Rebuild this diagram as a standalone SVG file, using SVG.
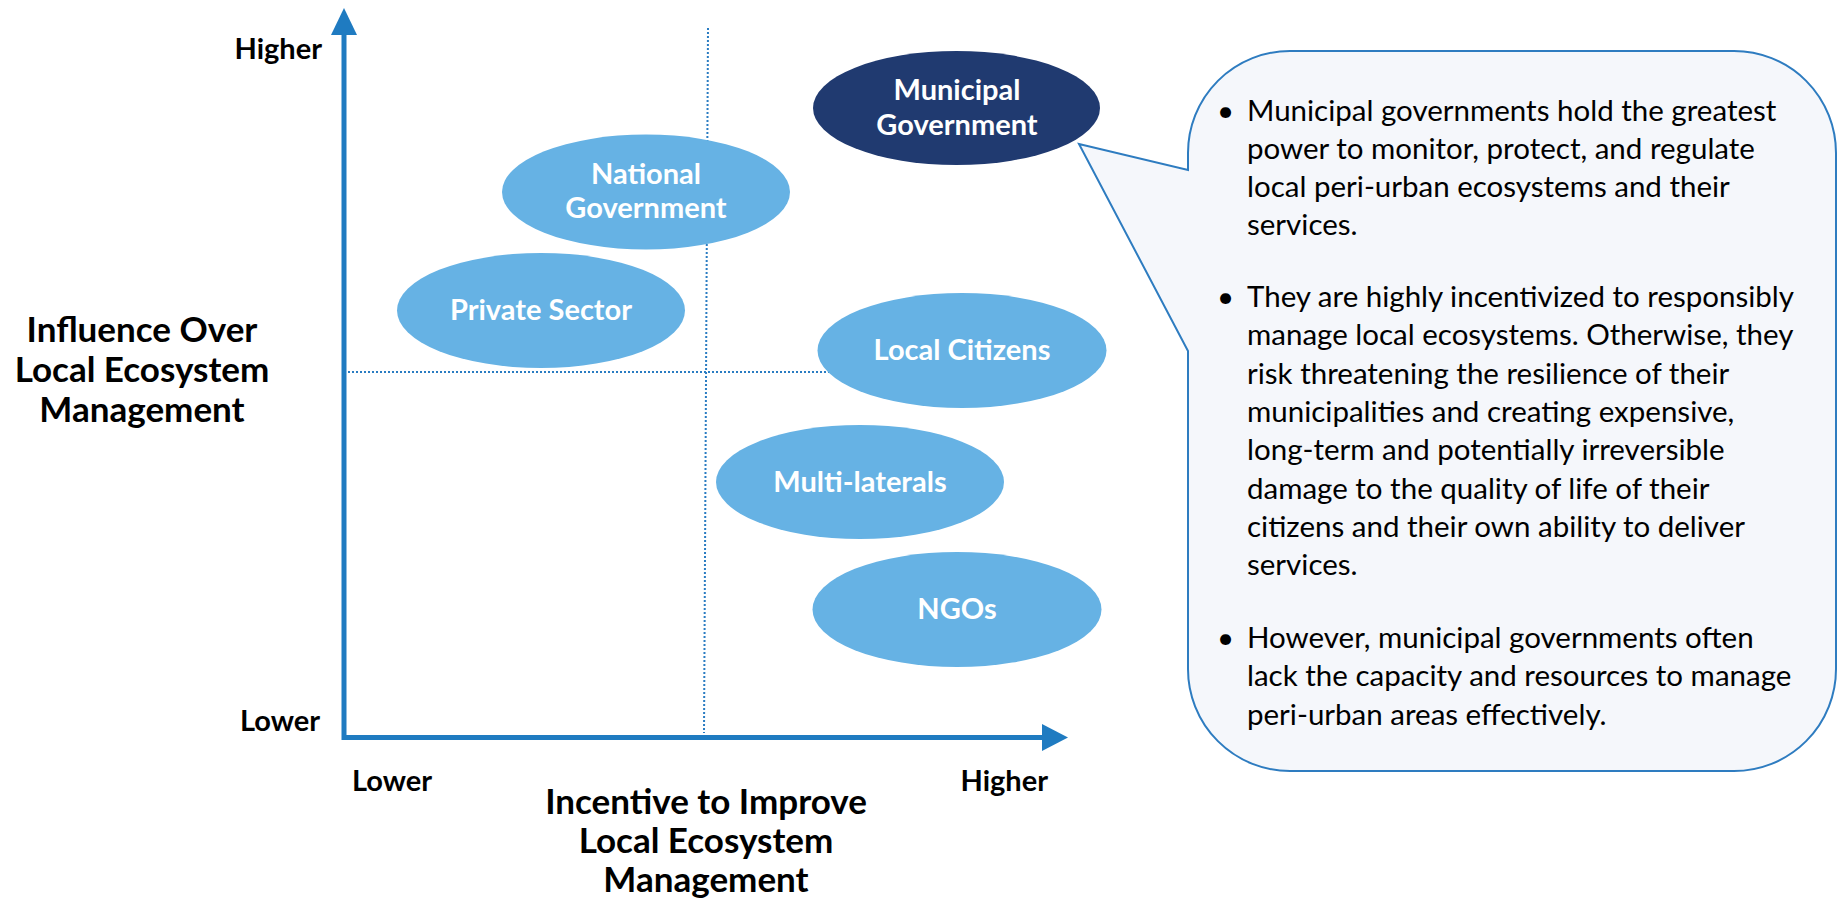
<svg xmlns="http://www.w3.org/2000/svg" width="1841" height="900" viewBox="0 0 1841 900">
<style>
  .axis { stroke: #1f7bc1; stroke-width: 5; fill: none; }
  .arrowhead { fill: #1f7bc1; }
  .dotted { stroke: #2a7cc2; stroke-width: 2; stroke-dasharray: 2 2; fill: none; }
  .ell { fill: #66b2e4; }
  .ell-dark { fill: #203a70; }
  .etext { font-family: Lato, "Open Sans", sans-serif; font-weight: 700; font-size: 29px; fill: #ffffff; text-anchor: middle; }
  .lbl { font-family: Lato, "Open Sans", sans-serif; font-weight: 700; font-size: 29px; fill: #000000; }
  .title { font-family: Lato, "Open Sans", sans-serif; font-weight: 700; font-size: 35px; fill: #000000; text-anchor: middle; }
  .callout { fill: #f5f7fb; stroke: #2e7cc0; stroke-width: 2; }
  .body { font-family: Lato, "Open Sans", sans-serif; font-size: 29.5px; fill: #000000; }
</style>
<rect width="1841" height="900" fill="#ffffff"/>

<g id="connectors">
  <line class="dotted" x1="708" y1="28" x2="704" y2="733"/>
  <line class="dotted" x1="348" y1="372" x2="830" y2="372"/>
  <line class="axis" x1="344" y1="740" x2="344" y2="33"/>
  <polygon class="arrowhead" points="331,35 357,35 344,8"/>
  <line class="axis" x1="342" y1="737.5" x2="1044" y2="737.5"/>
  <polygon class="arrowhead" points="1042,724 1042,751 1068,737.5"/>
</g>

<g id="axis-labels">
  <text class="lbl" x="322" y="59" text-anchor="end">Higher</text>
  <text class="lbl" x="320" y="731" text-anchor="end">Lower</text>
  <text class="lbl" x="352" y="791">Lower</text>
  <text class="lbl" x="1048" y="791" text-anchor="end">Higher</text>
</g>

<g id="y-title">
  <text class="title" x="142" y="342">Influence Over</text>
  <text class="title" x="142" y="382">Local Ecosystem</text>
  <text class="title" x="142" y="422">Management</text>
</g>

<g id="x-title">
  <text class="title" x="706" y="814">Incentive to Improve</text>
  <text class="title" x="706" y="853">Local Ecosystem</text>
  <text class="title" x="706" y="892">Management</text>
</g>

<g id="national-government">
  <ellipse class="ell" cx="646" cy="192" rx="144" ry="57.5"/>
  <text class="etext" x="646" y="184">National</text>
  <text class="etext" x="646" y="218">Government</text>
</g>

<g id="private-sector">
  <ellipse class="ell" cx="541" cy="310.5" rx="144" ry="57.5"/>
  <text class="etext" x="541" y="320">Private Sector</text>
</g>

<g id="local-citizens">
  <ellipse class="ell" cx="962" cy="350.5" rx="144.5" ry="57.5"/>
  <text class="etext" x="962" y="360">Local Citizens</text>
</g>

<g id="multi-laterals">
  <ellipse class="ell" cx="860" cy="482" rx="144" ry="57"/>
  <text class="etext" x="860" y="492">Multi-laterals</text>
</g>

<g id="ngos">
  <ellipse class="ell" cx="957" cy="609.5" rx="144.5" ry="57.5"/>
  <text class="etext" x="957" y="619">NGOs</text>
</g>

<g id="municipal-government">
  <ellipse class="ell-dark" cx="956.5" cy="108" rx="143.5" ry="57"/>
  <text class="etext" x="957" y="100">Municipal</text>
  <text class="etext" x="957" y="135">Government</text>
</g>

<g id="callout">
  <path class="callout" d="M1188,351 L1188,669 A102,102 0 0 0 1290,771 L1734,771 A102,102 0 0 0 1836,669 L1836,153 A102,102 0 0 0 1734,51 L1290,51 A102,102 0 0 0 1188,153 L1188,170 L1079,144 Z"/>
  <g class="body">
    <text x="1217" y="121">•</text>
    <text x="1247" y="121">Municipal governments hold the greatest</text>
    <text x="1247" y="159">power to monitor, protect, and regulate</text>
    <text x="1247" y="197">local peri-urban ecosystems and their</text>
    <text x="1247" y="235">services.</text>
    <text x="1217" y="307">•</text>
    <text x="1247" y="307">They are highly incentivized to responsibly</text>
    <text x="1247" y="345.3">manage local ecosystems. Otherwise, they</text>
    <text x="1247" y="383.6">risk threatening the resilience of their</text>
    <text x="1247" y="421.9">municipalities and creating expensive,</text>
    <text x="1247" y="460.2">long-term and potentially irreversible</text>
    <text x="1247" y="498.5">damage to the quality of life of their</text>
    <text x="1247" y="536.8">citizens and their own ability to deliver</text>
    <text x="1247" y="575.1">services.</text>
    <text x="1217" y="648">•</text>
    <text x="1247" y="648">However, municipal governments often</text>
    <text x="1247" y="686.3">lack the capacity and resources to manage</text>
    <text x="1247" y="724.6">peri-urban areas effectively.</text>
  </g>
</g>
</svg>
